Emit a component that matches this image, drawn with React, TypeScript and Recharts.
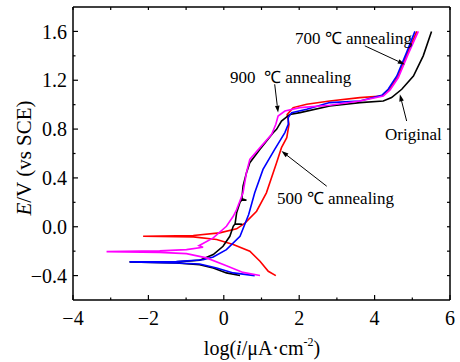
import { LineChart, Line, XAxis, YAxis, ReferenceLine } from "recharts"

// axis ticks
const xTicks = [-4, -3, -2, -1, 0, 1, 2, 3, 4, 5, 6]
const yTicks = [-0.4, -0.2, 0, 0.2, 0.4, 0.6, 0.8, 1.0, 1.2, 1.4, 1.6]

// Original (black)
const originalX = [0.43, 0.07, -0.28, -0.64, -1.26, -2.5, -1.26, -0.64, -0.28, -0.02, 0.16, 0.25, 0.29, 0.49, 0.3, 0.34, 0.43, 0.47, 0.6, 0.48, 0.51, 0.6, 0.69, 0.96, 1.31, 1.4, 1.53, 1.75, 2.02, 2.81, 3.61, 4.23, 4.45, 4.72, 5.03, 5.29, 5.51]
const originalE = [-0.4, -0.378, -0.338, -0.311, -0.297, -0.288, -0.288, -0.275, -0.228, -0.16, -0.078, 0.004, 0.02, 0.02, 0.025, 0.114, 0.2, 0.217, 0.217, 0.23, 0.332, 0.44, 0.525, 0.634, 0.77, 0.798, 0.866, 0.92, 0.935, 0.989, 1.017, 1.03, 1.058, 1.126, 1.235, 1.4, 1.6]

// 500 C annealing (red)
const a500X = [1.38, 1.18, 0.96, 0.69, 0.25, -0.19, -0.81, -2.14, -0.81, -0.11, 0.34, 0.56, 0.87, 1.13, 1.4, 1.53, 1.67, 1.73, 1.68, 1.84, 2.2, 2.81, 3.61, 4.19, 4.4, 4.62, 4.87, 5.12]
const a500E = [-0.4, -0.365, -0.283, -0.201, -0.146, -0.105, -0.083, -0.078, -0.072, -0.05, -0.017, 0.03, 0.127, 0.278, 0.524, 0.648, 0.73, 0.839, 0.92, 0.976, 1.003, 1.03, 1.058, 1.071, 1.13, 1.23, 1.42, 1.6]

// 700 C annealing (blue)
const a700X = [0.82, 0.25, -0.19, -0.64, -1.26, -2.5, -1.26, -0.55, -0.28, 0.07, 0.43, 0.66, 0.82, 1.04, 1.35, 1.62, 1.71, 1.71, 1.8, 2.2, 2.81, 3.61, 4.19, 4.36, 4.59, 4.85, 5.07]
const a700E = [-0.4, -0.378, -0.338, -0.305, -0.297, -0.288, -0.286, -0.27, -0.248, -0.187, -0.078, 0.1, 0.278, 0.47, 0.634, 0.771, 0.839, 0.894, 0.935, 0.962, 1.017, 1.03, 1.077, 1.126, 1.235, 1.428, 1.6]

// 900 C annealing (magenta)
const a900X = [0.96, 0.51, 0.07, -0.46, -0.99, -1.7, -3.11, -1.7, -0.99, -0.55, -0.66, -0.28, 0.07, 0.25, 0.34, 0.51, 0.6, 0.69, 0.96, 1.27, 1.38, 1.44, 1.62, 2.02, 2.81, 3.61, 4.23, 4.41, 4.63, 4.89, 5.16]
const a900E = [-0.4, -0.374, -0.319, -0.255, -0.22, -0.21, -0.204, -0.198, -0.187, -0.168, -0.155, -0.091, 0.004, 0.086, 0.141, 0.278, 0.442, 0.552, 0.648, 0.757, 0.839, 0.907, 0.948, 0.976, 0.995, 1.03, 1.071, 1.12, 1.222, 1.414, 1.6]

const toRows = (xs: number[], es: number[]) => xs.map((x, i) => ({ x, e: es[i] }))

const FONT = "'Liberation Serif', 'Times New Roman', serif"
const PLOT_LEFT = 73
const PLOT_RIGHT = 450
const PLOT_TOP = 7
const PLOT_BOTTOM = 300

const fmt = (v: number, digits: number) => {
  const s = Math.abs(v).toFixed(digits)
  return v < 0 ? `\u2212${s}` : s
}

const XTick = (props: any) => {
  const { x, payload } = props
  const v = payload.value
  const major = Math.round(v) % 2 === 0
  return (
    <g>
      <line x1={x} y1={PLOT_BOTTOM} x2={x} y2={PLOT_BOTTOM - (major ? 5 : 2.5)} stroke="#000" strokeWidth={1.2} />
      <line x1={x} y1={PLOT_TOP} x2={x} y2={PLOT_TOP + 3} stroke="#000" strokeWidth={1.2} />
      {major && (
        <text x={x} y={PLOT_BOTTOM + 25} textAnchor="middle" fontFamily={FONT} fontSize={20} fill="#000">
          {fmt(v, 0)}
        </text>
      )}
    </g>
  )
}

const YTick = (props: any) => {
  const { y, payload } = props
  const v = payload.value
  const major = Math.round(v * 10) % 4 === 0
  return (
    <g>
      <line x1={PLOT_LEFT} y1={y} x2={PLOT_LEFT + (major ? 5 : 2.5)} y2={y} stroke="#000" strokeWidth={1.2} />
      <line x1={PLOT_RIGHT} y1={y} x2={PLOT_RIGHT - 3} y2={y} stroke="#000" strokeWidth={1.2} />
      {major && (
        <text x={PLOT_LEFT - 6} y={y} dy="0.355em" textAnchor="end" fontFamily={FONT} fontSize={20} fill="#000">
          {fmt(v, 1)}
        </text>
      )}
    </g>
  )
}

const Arrow = (props: any) => {
  const { x1, y1, x2, y2 } = props
  const dx = x2 - x1
  const dy = y2 - y1
  const len = Math.sqrt(dx * dx + dy * dy) || 1
  const ux = dx / len
  const uy = dy / len
  const hl = 7
  const hw = 2.3
  const bx = x2 - ux * hl
  const by = y2 - uy * hl
  return (
    <g>
      <line x1={x1} y1={y1} x2={bx} y2={by} stroke="#000" strokeWidth={1} />
      <polygon
        points={`${x2},${y2} ${bx - uy * hw},${by + ux * hw} ${bx + uy * hw},${by - ux * hw}`}
        fill="#000"
      />
    </g>
  )
}

const arrows = [
  { from: { x: 3.74, y: 1.482 }, to: { x: 4.8, y: 1.33 } },
  { from: { x: 1.35, y: 1.167 }, to: { x: 1.44, y: 0.935 } },
  { from: { x: 2.73, y: 0.332 }, to: { x: 1.53, y: 0.62 } },
  { from: { x: 4.85, y: 0.866 }, to: { x: 4.67, y: 1.085 } },
]

export default function App() {
  return (
    <div style={{ position: "absolute", left: 0, top: 0, width: 460, height: 362, background: "#fff" }}>
      <LineChart width={460} height={362} margin={{ top: PLOT_TOP, right: 460 - PLOT_RIGHT, bottom: 0, left: 0 }}>
        <XAxis
          type="number"
          dataKey="x"
          domain={[-4, 6]}
          ticks={xTicks}
          interval={0}
          allowDataOverflow
          height={362 - PLOT_BOTTOM}
          tickSize={0}
          tickLine={false}
          tick={<XTick />}
          axisLine={{ stroke: "#000", strokeWidth: 1.5 }}
        />
        <YAxis
          type="number"
          dataKey="e"
          domain={[-0.6, 1.8]}
          ticks={yTicks}
          interval={0}
          allowDataOverflow
          width={PLOT_LEFT}
          tickSize={0}
          tickLine={false}
          tick={<YTick />}
          axisLine={{ stroke: "#000", strokeWidth: 1.5 }}
        />
        <ReferenceLine y={1.8} stroke="#000" strokeWidth={1.5} />
        <ReferenceLine x={6} stroke="#000" strokeWidth={1.5} />
        <Line data={toRows(a500X, a500E)} dataKey="e" type="linear" stroke="#ff0000" strokeWidth={1.6} dot={false} isAnimationActive={false} />
        <Line data={toRows(originalX, originalE)} dataKey="e" type="linear" stroke="#000000" strokeWidth={1.6} dot={false} isAnimationActive={false} />
        <Line data={toRows(a700X, a700E)} dataKey="e" type="linear" stroke="#0000ff" strokeWidth={1.6} dot={false} isAnimationActive={false} />
        <Line data={toRows(a900X, a900E)} dataKey="e" type="linear" stroke="#ff00ff" strokeWidth={1.6} dot={false} isAnimationActive={false} />
        {arrows.map((a, i) => (
          <ReferenceLine key={i} segment={[a.from, a.to]} shape={Arrow} ifOverflow="visible" />
        ))}
      </LineChart>
      <svg
        width={460}
        height={362}
        style={{ position: "absolute", left: 0, top: 0, pointerEvents: "none" }}
        fill="#000"
      >
        <text x={295} y={43.5} fontFamily={FONT} fontSize={17} style={{ whiteSpace: "pre" }}>700 ℃ annealing</text>
        <text x={230} y={82.5} fontFamily={FONT} fontSize={17} style={{ whiteSpace: "pre" }}>900  ℃ annealing</text>
        <text x={277} y={204} fontFamily={FONT} fontSize={17} style={{ whiteSpace: "pre" }}>500 ℃ annealing</text>
        <text x={385} y={139.5} fontFamily={FONT} fontSize={17}>Original</text>
        <text transform="translate(31,158) rotate(-90)" textAnchor="middle" fontFamily={FONT} fontSize={21}>
          <tspan fontStyle="italic">E</tspan>/V (vs SCE)
        </text>
        <text x={262} y={355} textAnchor="middle" fontFamily={FONT} fontSize={20}>
          log(<tspan fontStyle="italic">i</tspan>/μA·cm
          <tspan fontSize={12} dy={-9}>-2</tspan>
          <tspan dy={9}>)</tspan>
        </text>
      </svg>
    </div>
  )
}
